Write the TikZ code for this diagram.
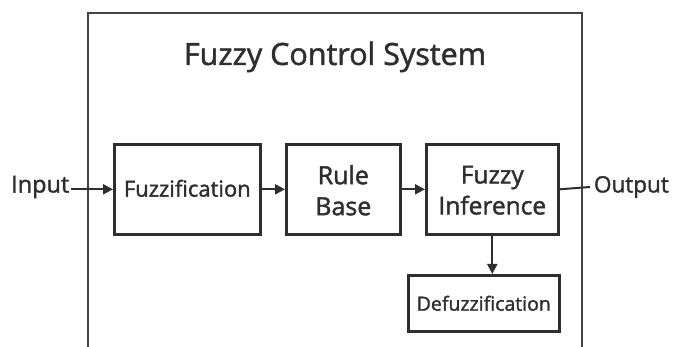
\documentclass[tikz,border=0pt]{standalone}
\usepackage{fontspec}
\setmainfont{Open Sans}
\newfontfamily\medfont[FakeBold=1.6]{Open Sans}
\usetikzlibrary{arrows.meta}
\definecolor{ink}{HTML}{2E2E2E}
\definecolor{frame}{HTML}{444444}
\begin{document}
\begin{tikzpicture}[x=1pt,y=-1pt,
  box/.style={draw=ink,line width=2.6pt,inner sep=0pt,anchor=north west},
  lbl/.style={text=ink,inner sep=0pt,align=center},
  conn/.style={draw=ink,line width=2pt,-{Triangle[length=10pt,width=10pt]}},
  plain/.style={draw=ink,line width=2pt}]
  \useasboundingbox (0,0) rectangle (673,347);
  \clip (0,0) rectangle (673,347);
  % system boundary (continues below the frame)
  \draw[frame,line width=2.4pt] (88,360) -- (88,13) -- (582,13) -- (582,360);
  \node[lbl,font=\medfont\fontsize{30.5}{34}\selectfont] (title) at (335,57) {Fuzzy Control System};
  % blocks
  \node[box,minimum width=146pt,minimum height=90pt] (fz) at (113,143) {};
  \node[lbl,font=\medfont\fontsize{22}{26}\selectfont] at ([yshift=1pt]fz.center) {Fuzzification};
  \node[box,minimum width=114pt,minimum height=90pt] (rb) at (285,143) {};
  \node[lbl,font=\medfont\fontsize{25}{31}\selectfont] at ([yshift=-1pt]rb.center) {Rule\\Base};
  \node[box,minimum width=132pt,minimum height=90pt] (fi) at (425,143) {};
  \node[lbl,font=\medfont\fontsize{24.5}{31}\selectfont] at ([yshift=-1pt]fi.center) {Fuzzy\\Inference};
  \node[box,minimum width=151pt,minimum height=56pt] (df) at (407,274) {};
  \node[lbl,font=\medfont\fontsize{19.5}{24}\selectfont] at (df.center) {Defuzzification};
  % terminals
  \node[lbl,font=\medfont\fontsize{23.5}{28}\selectfont,anchor=west] (in) at (11,187) {Input};
  \node[lbl,font=\medfont\fontsize{22.5}{28}\selectfont,anchor=east] (out) at (669,187) {Output};
  \coordinate (outend) at (590,187);
  % connectors
  \draw[conn] (in.east |- fz.west) ++(2,0) -- (fz.west);
  \draw[conn] (fz.east) -- (rb.west);
  \draw[conn] (rb.east) -- (fi.west);
  \draw[plain] (fi.east) -- (outend);
  \draw[conn] (fi.south) -- (fi.south |- df.north);
\end{tikzpicture}
\end{document}
